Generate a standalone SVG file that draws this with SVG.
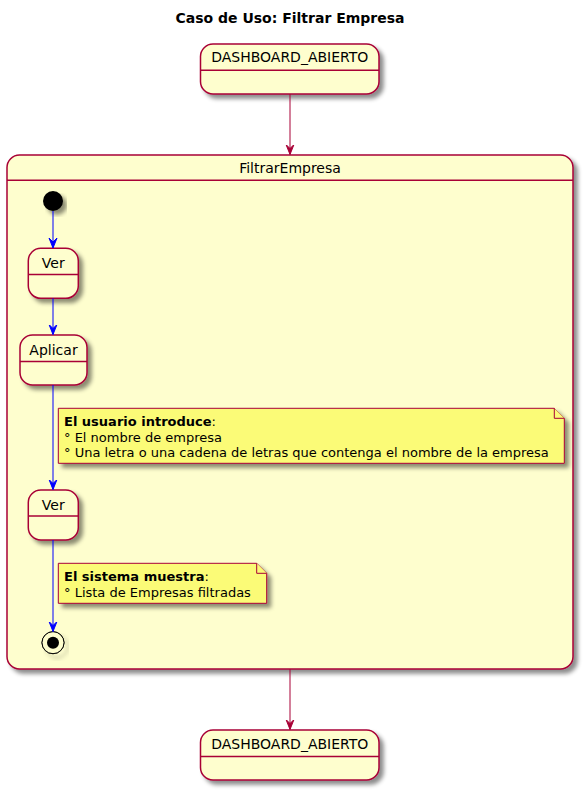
<svg xmlns="http://www.w3.org/2000/svg" width="586" height="793" viewBox="0 0 586 793">
<defs>
<filter id="sh" x="-10%" y="-10%" width="130%" height="140%">
<feGaussianBlur in="SourceAlpha" stdDeviation="2"/>
<feColorMatrix type="matrix" values="0 0 0 0 0  0 0 0 0 0  0 0 0 0 0  0 0 0 0.45 0"/>
<feOffset dx="4" dy="4" result="b"/>
<feMerge><feMergeNode in="b"/><feMergeNode in="SourceGraphic"/></feMerge>
</filter>
<marker id="ar" viewBox="0 0 10 10" refX="10" refY="5" markerWidth="10" markerHeight="10" markerUnits="userSpaceOnUse" orient="auto">
<path d="M0,1 L10,5 L0,9 L4,5 Z" fill="#A80036" stroke="#A80036" stroke-width="1"/>
</marker>
<marker id="ab" viewBox="0 0 10 10" refX="10" refY="5" markerWidth="10" markerHeight="10" markerUnits="userSpaceOnUse" orient="auto">
<path d="M0,1 L10,5 L0,9 L4,5 Z" fill="#0000FF" stroke="#0000FF" stroke-width="1"/>
</marker>
</defs>
<style>
.st{fill:#FEFECE;stroke:#A80036;stroke-width:1.5}
.dv{stroke:#A80036;stroke-width:1.5}
.nt{fill:#FBFB77;stroke:#A80036;stroke-width:1}
.t{font-family:"DejaVu Sans",sans-serif;font-size:14px;fill:#000}
.n{font-family:"DejaVu Sans",sans-serif;font-size:13px;fill:#000}
.rl{stroke:#A80036;stroke-width:1;fill:none}
.bl{stroke:#0000FF;stroke-width:1;fill:none}
</style>
<rect width="586" height="793" fill="#FFFFFF"/>
<text x="290" y="23" text-anchor="middle" font-family="DejaVu Sans, sans-serif" font-size="14" font-weight="bold">Caso de Uso: Filtrar Empresa</text>

<g id="dash1">
<rect class="st" x="200.5" y="44" width="178.5" height="50" rx="12.5" filter="url(#sh)"/>
<line class="dv" x1="200.5" y1="70.3" x2="379" y2="70.3"/>
<text class="t" x="289.75" y="62" text-anchor="middle">DASHBOARD_ABIERTO</text>
</g>

<g id="FiltrarEmpresa">
<rect class="st" x="7" y="155" width="566" height="514" rx="12.5" filter="url(#sh)"/>
<line class="dv" x1="7" y1="180.3" x2="573" y2="180.3"/>
<text class="t" x="290" y="173" text-anchor="middle">FiltrarEmpresa</text>
</g>

<g id="start">
<circle cx="53" cy="201" r="10" fill="#000" filter="url(#sh)"/>
</g>

<g id="ver1">
<rect class="st" x="28.3" y="248.3" width="50" height="50" rx="12.5" filter="url(#sh)"/>
<line class="dv" x1="28.3" y1="274.6" x2="78.3" y2="274.6"/>
<text class="t" x="53.3" y="268" text-anchor="middle">Ver</text>
</g>

<g id="aplicar">
<rect class="st" x="20" y="335" width="67" height="50" rx="12.5" filter="url(#sh)"/>
<line class="dv" x1="20" y1="361.5" x2="87" y2="361.5"/>
<text class="t" x="53.5" y="355" text-anchor="middle">Aplicar</text>
</g>

<g id="ver2">
<rect class="st" x="28.3" y="490" width="50" height="50" rx="12.5" filter="url(#sh)"/>
<line class="dv" x1="28.3" y1="516" x2="78.3" y2="516"/>
<text class="t" x="53.3" y="509.5" text-anchor="middle">Ver</text>
</g>

<g id="end">
<circle cx="53" cy="642.7" r="11" fill="none" stroke="#000" stroke-width="1" filter="url(#sh)"/>
<circle cx="53" cy="642.7" r="11" fill="#FEFECE" stroke="#000" stroke-width="1"/>
<circle cx="53" cy="642.7" r="6" fill="#000"/>
</g>

<g id="note1">
<path class="nt" d="M58.3,408.3 L554.3,408.3 L564.3,418.3 L564.3,463.3 L58.3,463.3 Z" filter="url(#sh)"/>
<path class="nt" d="M554.3,408.3 L554.3,418.3 L564.3,418.3" fill="none"/>
<text class="n" x="64" y="426"><tspan font-weight="bold">El usuario introduce</tspan>:</text>
<text class="n" x="64" y="441.5">° El nombre de empresa</text>
<text class="n" x="64" y="457">° Una letra o una cadena de letras que contenga el nombre de la empresa</text>
</g>

<g id="note2">
<path class="nt" d="M58.3,563.3 L256.7,563.3 L266.7,573.3 L266.7,603.3 L58.3,603.3 Z" filter="url(#sh)"/>
<path class="nt" d="M256.7,563.3 L256.7,573.3 L266.7,573.3" fill="none"/>
<text class="n" x="64" y="581"><tspan font-weight="bold">El sistema muestra</tspan>:</text>
<text class="n" x="64" y="596.5">° Lista de Empresas filtradas</text>
</g>

<g id="dash2">
<rect class="st" x="200.5" y="730" width="178.5" height="50" rx="12.5" filter="url(#sh)"/>
<line class="dv" x1="200.5" y1="756.5" x2="379" y2="756.5"/>
<text class="t" x="289.75" y="749" text-anchor="middle">DASHBOARD_ABIERTO</text>
</g>

<g id="connectors">
<line class="rl" x1="290" y1="94" x2="290" y2="154.5" marker-end="url(#ar)"/>
<line class="bl" x1="53" y1="211" x2="53" y2="248" marker-end="url(#ab)"/>
<line class="bl" x1="53" y1="298.3" x2="53" y2="334.5" marker-end="url(#ab)"/>
<line class="bl" x1="53" y1="385" x2="53" y2="489.5" marker-end="url(#ab)"/>
<line class="bl" x1="53" y1="540" x2="53" y2="631.5" marker-end="url(#ab)"/>
<line class="rl" x1="290" y1="669" x2="290" y2="729.5" marker-end="url(#ar)"/>
</g>
</svg>
